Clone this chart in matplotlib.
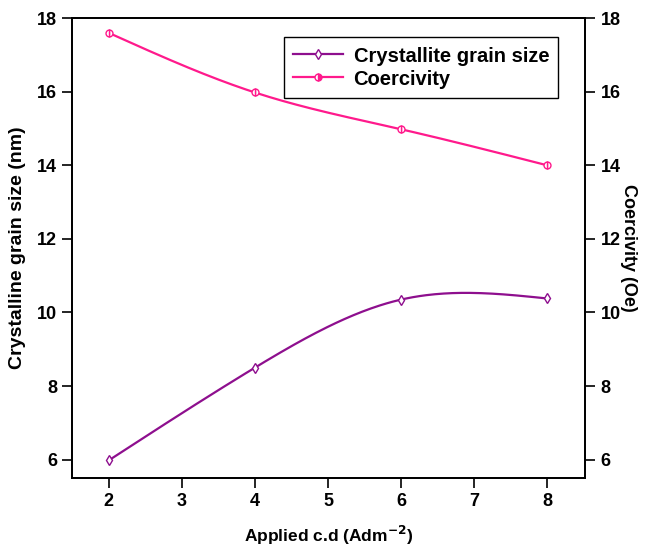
import numpy as np
import matplotlib.pyplot as plt

plt.rcParams['font.family'] = ['Liberation Sans', 'DejaVu Sans']
plt.rcParams['font.weight'] = 'bold'

# data
current_density = [2, 4, 6, 8]
grain_size = [5.98, 8.5, 10.35, 10.38]
coercivity = [17.6, 15.98, 14.98, 14.0]


def smooth(x, y, n=200):
    # natural cubic spline through the points, only for drawing the line
    x = np.asarray(x, float)
    y = np.asarray(y, float)
    h = np.diff(x)
    m = len(x)
    A = np.zeros((m, m))
    b = np.zeros(m)
    A[0, 0] = A[-1, -1] = 1
    for i in range(1, m - 1):
        A[i, i - 1] = h[i - 1]
        A[i, i] = 2 * (h[i - 1] + h[i])
        A[i, i + 1] = h[i]
        b[i] = 6 * ((y[i + 1] - y[i]) / h[i] - (y[i] - y[i - 1]) / h[i - 1])
    M = np.linalg.solve(A, b)
    xs = np.linspace(x[0], x[-1], n)
    idx = np.clip(np.searchsorted(x, xs) - 1, 0, m - 2)
    x0, x1 = x[idx], x[idx + 1]
    hh = x1 - x0
    ys = (M[idx] * (x1 - xs) ** 3 / (6 * hh) + M[idx + 1] * (xs - x0) ** 3 / (6 * hh)
          + (y[idx] / hh - M[idx] * hh / 6) * (x1 - xs)
          + (y[idx + 1] / hh - M[idx + 1] * hh / 6) * (xs - x0))
    return xs, ys


purple = '#8e0f8e'
pink = '#ff1a8c'

fig = plt.figure(figsize=(6.51, 5.51), dpi=100)
ax = fig.add_axes([0.111, 0.1325, 0.788, 0.8345])
ax2 = ax.twinx()

xs, ys = smooth(current_density, grain_size)
ax.plot(xs, ys, color=purple, lw=1.6)
ax.plot(current_density, grain_size, ls='none', marker='d', ms=5,
        mfc='white', mec=purple, mew=1)
xs, ys = smooth(current_density, coercivity)
ax.plot(xs, ys, color=pink, lw=1.6)
ax.plot(current_density, coercivity, ls='none', marker='o', ms=5,
        mfc='white', mec=pink, mew=1, fillstyle='right', markerfacecoloralt='white')

# legend handles
h1, = ax.plot([], [], color=purple, lw=1.6, marker='d', ms=5, mfc='white', mec=purple)
h2, = ax.plot([], [], color=pink, lw=1.6, marker='o', ms=5, mfc=pink, mec=pink,
              fillstyle='right', markerfacecoloralt='white')
leg = ax.legend([h1, h2], ['Crystallite grain size', 'Coercivity'],
                loc='upper right', bbox_to_anchor=(0.967, 0.98), fancybox=False,
                edgecolor='black', framealpha=1, fontsize=14.5, handlelength=2.5,
                borderpad=0.45, labelspacing=0.2, handletextpad=0.5)
leg.get_frame().set_linewidth(1.0)

ax.set_xlim(1.5, 8.52)
ax.set_ylim(5.5, 18)
ax2.set_ylim(5.5, 18)
ax.set_xticks([2, 3, 4, 5, 6, 7, 8])
ax.set_yticks([6, 8, 10, 12, 14, 16, 18])
ax2.set_yticks([6, 8, 10, 12, 14, 16, 18])

for a in (ax, ax2):
    a.tick_params(direction='out', length=7, width=1.2, labelsize=13, pad=4)
    for s in a.spines.values():
        s.set_linewidth(1.3)

ax.set_xlabel('Applied c.d (Adm$^{\\mathbf{-2}}$)', fontsize=12.5, fontweight='bold', labelpad=10)
ax.set_ylabel('Crystalline grain size (nm)', fontsize=14, fontweight='bold', labelpad=8)
ax2.set_ylabel('Coercivity (Oe)', fontsize=13, fontweight='bold', rotation=270, labelpad=12)

fig.savefig('out.png', dpi=100)
